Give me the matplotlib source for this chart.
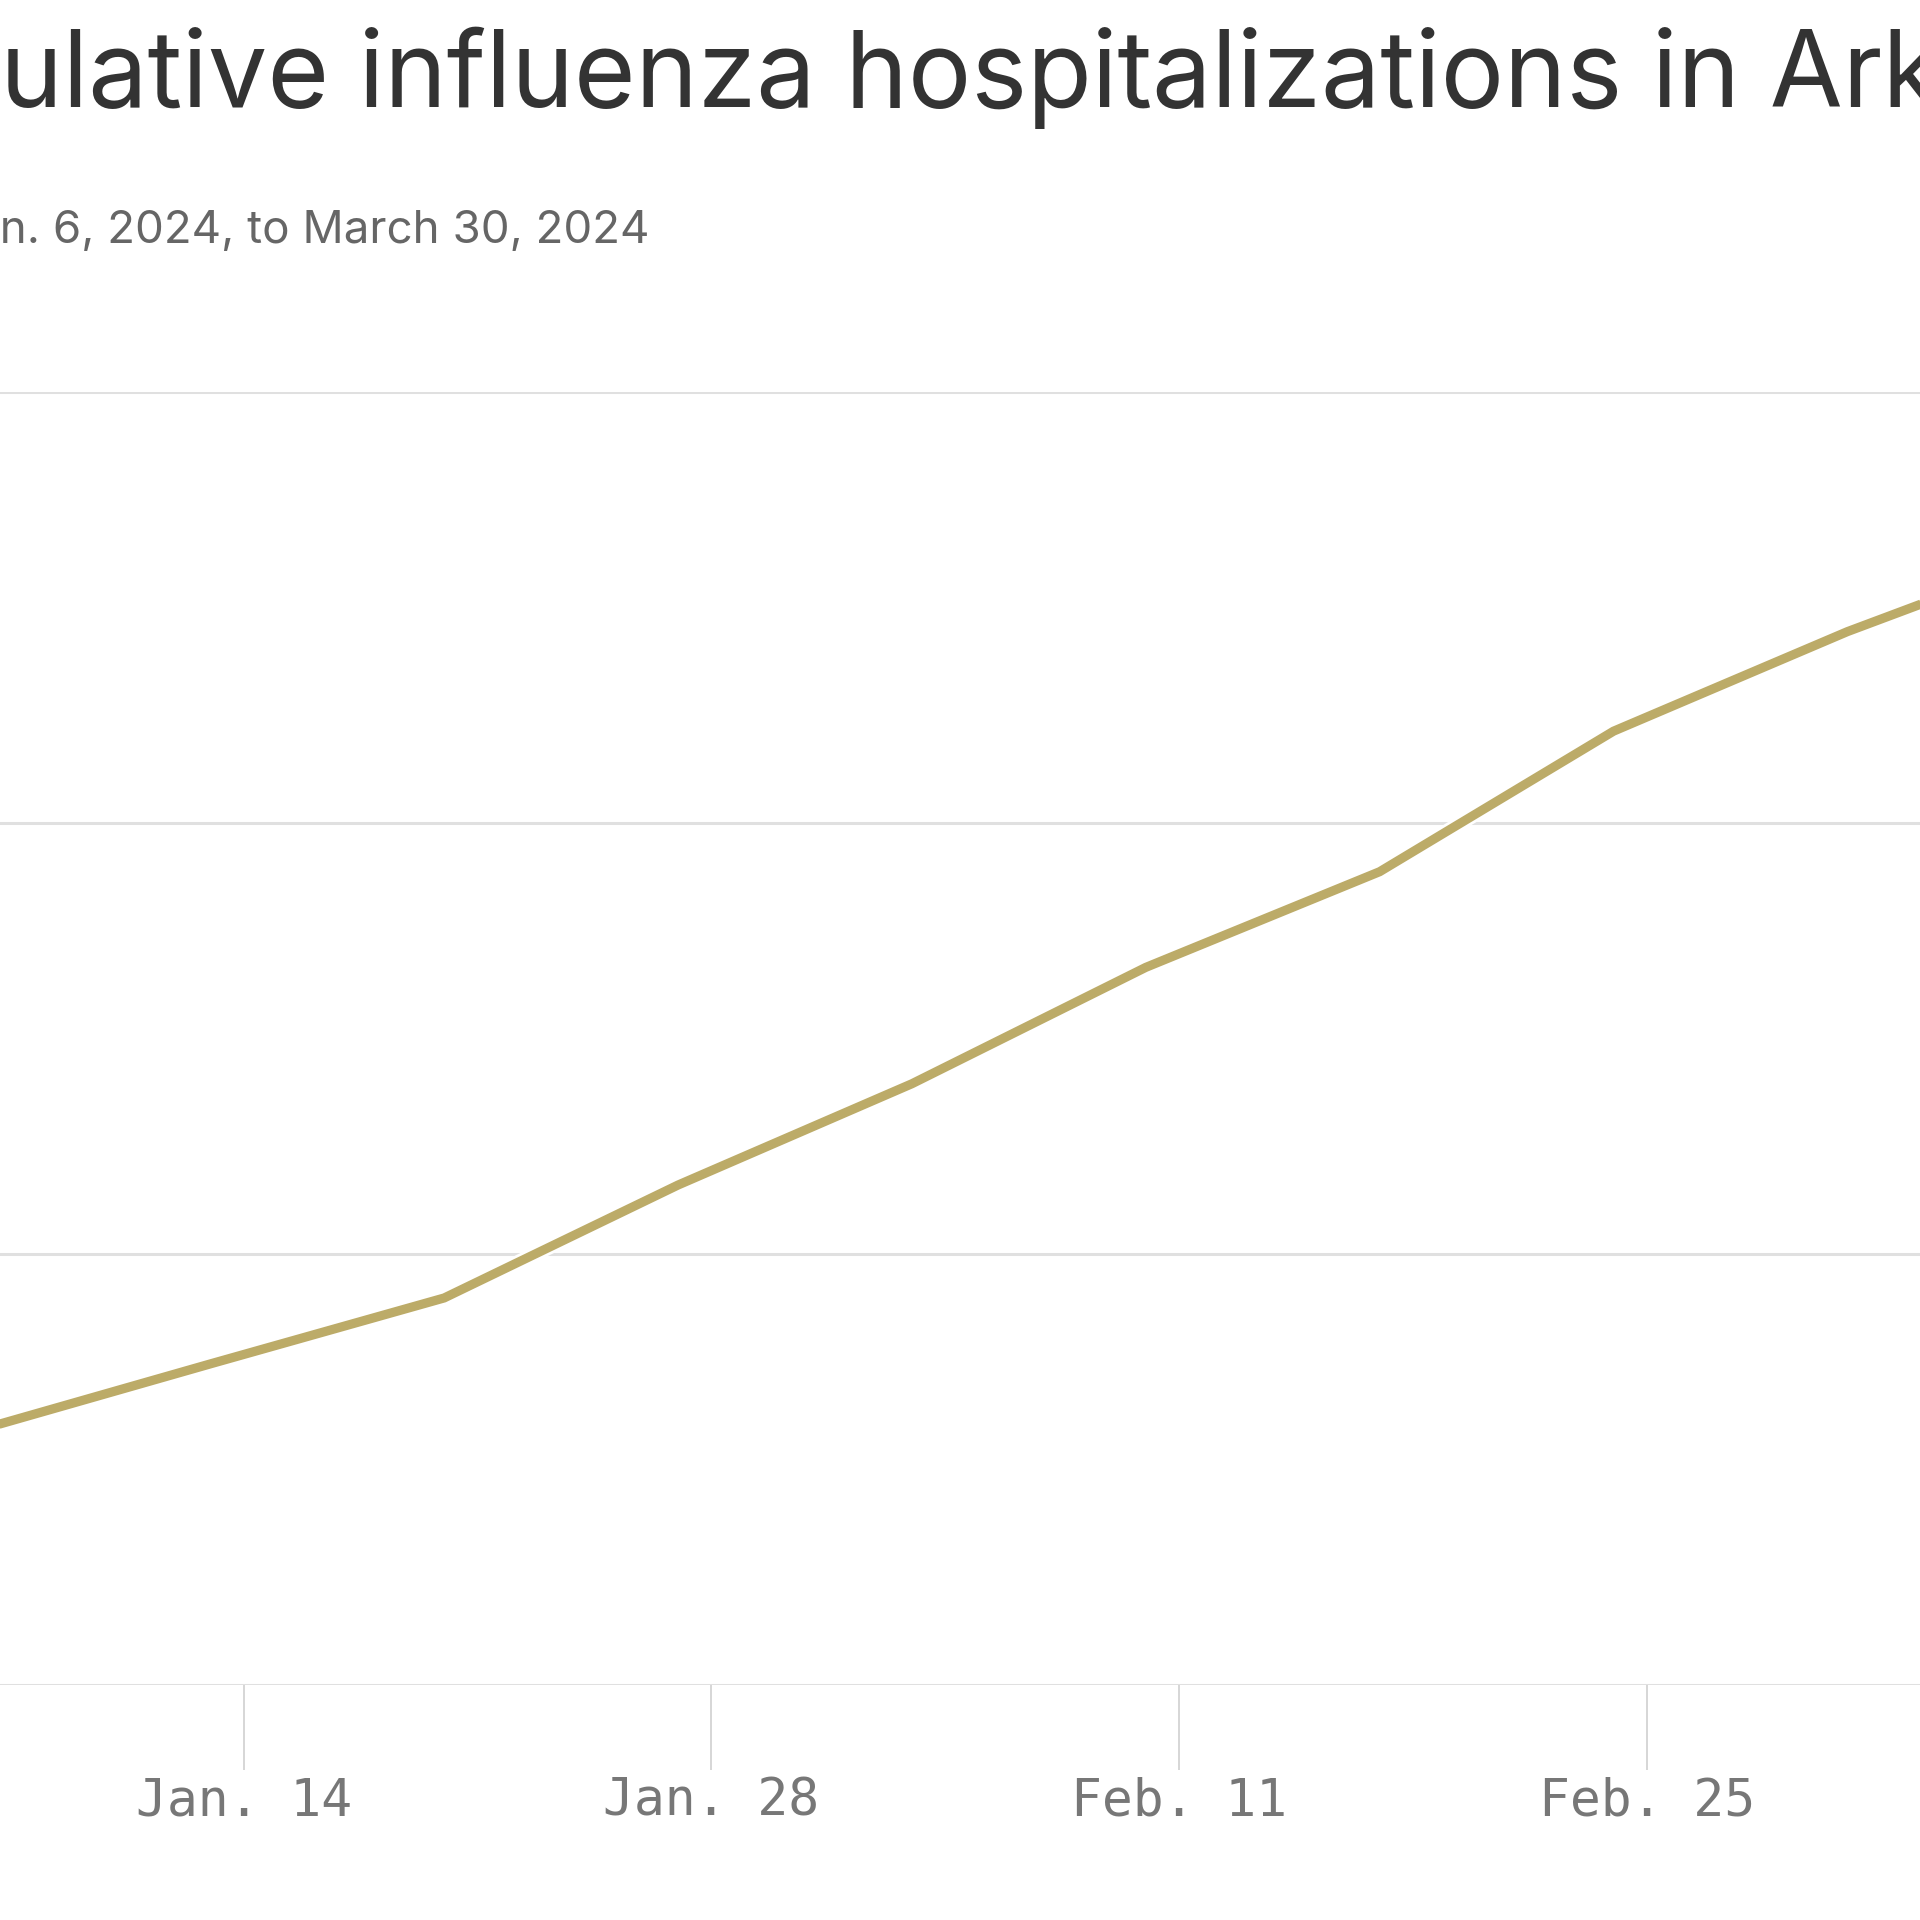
import datetime as dt
import matplotlib
matplotlib.use("Agg")
import matplotlib.pyplot as plt
import matplotlib.dates as mdates
import matplotlib.patheffects as pe

# Weekly cumulative influenza hospitalizations (week ending dates)
week_ending = [dt.date(2024, 1, 6) + dt.timedelta(days=7 * i) for i in range(13)]
cumulative = [590, 745, 898, 1160, 1395, 1665, 1887, 2213, 2444, 2647, 2830, 2990, 3120]

tick_dates = [dt.date(2024, 1, 14), dt.date(2024, 1, 28), dt.date(2024, 2, 11),
              dt.date(2024, 2, 25), dt.date(2024, 3, 10), dt.date(2024, 3, 24)]
tick_labels = ["Jan. 14", "Jan. 28", "Feb. 11", "Feb. 25", "Mar. 10", "Mar. 24"]
y_ticks = [0, 1000, 2000, 3000]

title = "Cumulative influenza hospitalizations in Arkansas"
subtitle = "Jan. 6, 2024, to March 30, 2024"

W = H = 1920
fig = plt.figure(figsize=(19.2, 19.2), dpi=100)
fig.patch.set_facecolor("white")

# the chart is shown zoomed in: axes run across the full width
ax = fig.add_axes([0, (H - 1685) / H, 1, (1685 - 392) / H])

x_num = mdates.date2num(week_ending)
ax.plot(x_num, cumulative, color="#bcab68", lw=6.6, solid_joinstyle="miter",
        solid_capstyle="butt", zorder=3,
        path_effects=[pe.Stroke(linewidth=10.5, foreground="white"), pe.Normal()])

ax.set_yticks(y_ticks)
ax.yaxis.grid(True, color="#e0e0e0", lw=2.2)
ax.tick_params(axis="y", left=False, labelleft=False)
ax.set_axisbelow(True)
for s in ax.spines.values():
    s.set_visible(False)

ax.set_xticks(mdates.date2num(tick_dates))
ax.set_xticklabels(tick_labels, family="DejaVu Sans Mono", fontsize=37, color="#777777")
ax.tick_params(axis="x", direction="out", length=61, width=1.1, color="#cccccc", pad=5)

px_per_day = 33.41
left = mdates.date2num(tick_dates[0]) - 243.7 / px_per_day
ax.set_xlim(left, left + W / px_per_day)
ax.set_ylim(0, 3000)

# fit title / subtitle sizes to the visible stretch
renderer = fig.canvas.get_renderer()


def width_px(s, size, family):
    t = fig.text(0, 0, s, fontsize=size, family=family)
    w = t.get_window_extent(renderer).width
    t.remove()
    return w


fam = "Inter"
w = width_px("ulative influenza hospitalizations in A", 77, fam) - width_px("A", 77, fam)
tsize = 77 * 1771 / w
hidden = width_px("Cumulative", tsize, fam) - width_px("ulative", tsize, fam)
fig.text(-hidden / W, (H - 107) / H, title, fontsize=tsize, family=fam,
         color="#333333", va="baseline", ha="left")

w = width_px("n. 6, 2024, to March 30, 2024", 35, fam)
ssize = 35 * 649 / w
hidden = width_px(subtitle, ssize, fam) - width_px("n. 6, 2024, to March 30, 2024", ssize, fam)
fig.text(-hidden / W, (H - 243) / H, subtitle, fontsize=ssize, family=fam,
         color="#666666", va="baseline", ha="left")

fig.savefig("out.png", dpi=100, facecolor="white")
